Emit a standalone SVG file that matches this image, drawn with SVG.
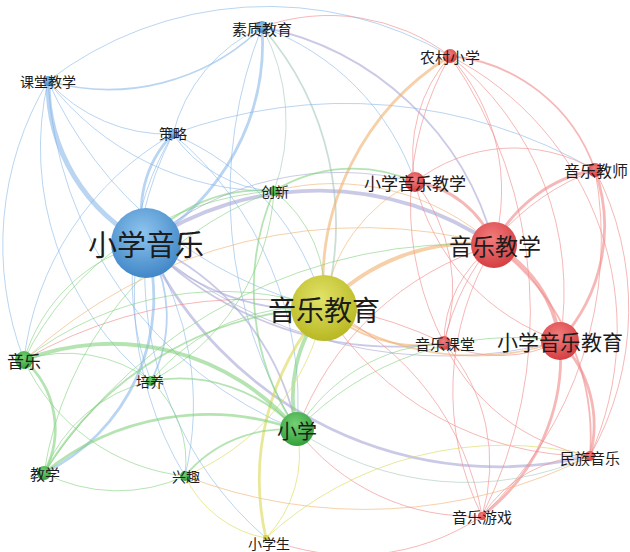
<svg xmlns="http://www.w3.org/2000/svg" width="630" height="552" viewBox="0 0 630 552">
<defs>
<radialGradient id="gb" cx="45%" cy="35%" r="70%"><stop offset="0" stop-color="#8ec4ee"/><stop offset="1" stop-color="#3b82c4"/></radialGradient>
<radialGradient id="gr" cx="45%" cy="35%" r="70%"><stop offset="0" stop-color="#f27c7c"/><stop offset="1" stop-color="#d23a3e"/></radialGradient>
<radialGradient id="gy" cx="45%" cy="35%" r="70%"><stop offset="0" stop-color="#e2e268"/><stop offset="1" stop-color="#b5b51e"/></radialGradient>
<radialGradient id="gg" cx="45%" cy="35%" r="70%"><stop offset="0" stop-color="#74d074"/><stop offset="1" stop-color="#2f9c36"/></radialGradient>
<style>
.e path{fill:none;stroke-linecap:round}
.b{stroke:#7fb3e6;stroke-opacity:.55}
.r{stroke:#f08a8a;stroke-opacity:.62}
.g{stroke:#80d07a;stroke-opacity:.58}
.y{stroke:#dada5a;stroke-opacity:.62}
.p{stroke:#a9a6d6;stroke-opacity:.6}
.o{stroke:#f0b070;stroke-opacity:.6}
.t{stroke:#9cc4b4;stroke-opacity:.55}
.w1{stroke-width:1}
.w2{stroke-width:1.8}
.w3{stroke-width:2.8}
.w4{stroke-width:3.8}
.w5{stroke-width:5}
text{font-family:"Noto Sans CJK SC","Noto Sans CJK TC",sans-serif;fill:#1c1c1c;text-anchor:middle;dominant-baseline:central}
.nb{fill:url(#gb)}.nr{fill:url(#gr)}.ny{fill:url(#gy)}.ng{fill:url(#gg)}
</style>
</defs>
<rect width="630" height="552" fill="#ffffff"/>
<g id="connectors" class="e">
<path class="b w5" d="M48 81 A180 180 0 0 0 146 243"/>
<path class="b w3" d="M262 27 A230 230 0 0 1 146 243"/>
<path class="b w3" d="M173 134 A110 110 0 0 0 146 243"/>
<path class="b w2" d="M48 81 A220 220 0 0 0 262 27"/>
<path class="b w1" d="M48 81 A160 160 0 0 0 173 134"/>
<path class="b w1" d="M262 27 A160 160 0 0 0 173 134"/>
<path class="t w1" d="M262 27 A200 200 0 0 1 274 191"/>
<path class="b w1" d="M262 27 A250 250 0 0 1 415 182"/>
<path class="p w2" d="M262 27 A300 300 0 0 1 494 245"/>
<path class="t w2" d="M262 27 A300 300 0 0 1 324 308"/>
<path class="b w1" d="M262 27 A450 450 0 0 0 297 430"/>
<path class="b w1" d="M173 134 A130 130 0 0 0 274 191"/>
<path class="b w1" d="M173 134 A500 500 0 0 1 595 170"/>
<path class="b w1" d="M173 134 A260 260 0 0 1 324 308"/>
<path class="b w1" d="M173 134 A350 350 0 0 1 297 430"/>
<path class="b w1" d="M173 134 A280 280 0 0 0 151 381"/>
<path class="b w1" d="M173 134 A300 300 0 0 0 24 360"/>
<path class="b w1" d="M48 81 A320 320 0 0 0 24 360"/>
<path class="b w1" d="M48 81 A280 280 0 0 0 274 191"/>
<path class="b w1" d="M48 81 A400 400 0 0 0 324 308"/>
<path class="b w1" d="M48 81 A360 360 0 0 1 450 56"/>
<path class="r w1" d="M262 27 A200 200 0 0 1 450 56"/>
<path class="b w1" d="M48 81 A400 400 0 0 0 297 430"/>
<path class="b w1" d="M48 81 A300 300 0 0 0 151 381"/>
<path class="b w1" d="M173 134 A350 350 0 0 0 185 476"/>
<path class="g w2" d="M146 243 A150 150 0 0 1 274 191"/>
<path class="p w1" d="M146 243 A300 300 0 0 1 415 182"/>
<path class="p w4" d="M146 243 A310 310 0 0 1 494 245"/>
<path class="p w2" d="M146 243 A220 220 0 0 0 324 308"/>
<path class="p w2" d="M146 243 A260 260 0 0 1 297 430"/>
<path class="p w3" d="M146 243 A390 390 0 0 0 590 456"/>
<path class="g w1" d="M146 243 A170 170 0 0 0 24 360"/>
<path class="b w2" d="M146 243 A140 140 0 0 1 151 381"/>
<path class="b w3" d="M44 473 A195 195 0 0 0 146 243"/>
<path class="b w1" d="M146 243 A300 300 0 0 1 185 476"/>
<path class="b w1" d="M146 243 A350 350 0 0 0 266 538"/>
<path class="p w2" d="M146 243 A350 350 0 0 0 444 343"/>
<path class="p w1" d="M146 243 A450 450 0 0 0 560 341"/>
<path class="o w3" d="M450 56 A268 268 0 0 0 324 308"/>
<path class="r w2" d="M450 56 A170 170 0 0 1 595 170"/>
<path class="r w1" d="M450 56 A307 307 0 0 1 590 456"/>
<path class="r w1" d="M450 56 A200 200 0 0 1 494 245"/>
<path class="r w1" d="M450 56 A150 150 0 0 0 415 182"/>
<path class="r w1" d="M450 56 A300 300 0 0 1 560 341"/>
<path class="r w1" d="M450 56 A300 300 0 0 0 444 343"/>
<path class="r w1" d="M450 56 A450 450 0 0 1 482 516"/>
<path class="r w3" d="M415 182 A100 100 0 0 1 494 245"/>
<path class="r w1" d="M415 182 A160 160 0 0 1 595 170"/>
<path class="r w1" d="M415 182 A220 220 0 0 0 560 341"/>
<path class="r w1" d="M415 182 A170 170 0 0 1 444 343"/>
<path class="o w1" d="M415 182 A160 160 0 0 0 324 308"/>
<path class="r w3" d="M595 170 A140 140 0 0 0 494 245"/>
<path class="r w3" d="M595 170 A170 170 0 0 1 560 341"/>
<path class="r w1" d="M595 170 A240 240 0 0 0 444 343"/>
<path class="r w1" d="M595 170 A300 300 0 0 1 590 456"/>
<path class="r w1" d="M595 170 A380 380 0 0 1 482 516"/>
<path class="r w4" d="M494 245 A130 130 0 0 1 560 341"/>
<path class="o w4" d="M494 245 A200 200 0 0 0 324 308"/>
<path class="r w1" d="M494 245 A120 120 0 0 0 444 343"/>
<path class="r w2" d="M494 245 A240 240 0 0 1 590 456"/>
<path class="r w1" d="M494 245 A280 280 0 0 0 482 516"/>
<path class="r w1" d="M494 245 A300 300 0 0 0 297 430"/>
<path class="r w3" d="M560 341 A120 120 0 0 1 590 456"/>
<path class="r w3" d="M560 341 A200 200 0 0 1 482 516"/>
<path class="r w1" d="M560 341 A130 130 0 0 1 444 343"/>
<path class="o w2" d="M560 341 A260 260 0 0 1 324 308"/>
<path class="r w1" d="M444 343 A180 180 0 0 1 482 516"/>
<path class="r w1" d="M444 343 A200 200 0 0 0 590 456"/>
<path class="o w2" d="M444 343 A140 140 0 0 1 324 308"/>
<path class="r w1" d="M590 456 A130 130 0 0 0 482 516"/>
<path class="r w1" d="M590 456 A310 310 0 0 1 324 308"/>
<path class="o w1" d="M590 456 A500 500 0 0 1 185 476"/>
<path class="t w1" d="M590 456 A300 300 0 0 1 297 430"/>
<path class="r w1" d="M482 516 A220 220 0 0 1 297 430"/>
<path class="r w1" d="M482 516 A280 280 0 0 0 324 308"/>
<path class="r w1" d="M482 516 A230 230 0 0 1 266 538"/>
<path class="g w4" d="M324 308 A140 140 0 0 0 297 430"/>
<path class="y w3" d="M324 308 A260 260 0 0 0 266 538"/>
<path class="g w1" d="M324 308 A320 320 0 0 0 24 360"/>
<path class="g w2" d="M324 308 A340 340 0 0 0 44 473"/>
<path class="y w1" d="M324 308 A230 230 0 0 1 185 476"/>
<path class="g w1" d="M324 308 A200 200 0 0 0 151 381"/>
<path class="g w4" d="M24 360 A243 243 0 0 1 297 430"/>
<path class="g w3" d="M24 360 A92 92 0 0 1 44 473"/>
<path class="g w1" d="M24 360 A140 140 0 0 1 151 381"/>
<path class="g w1" d="M24 360 A200 200 0 0 0 185 476"/>
<path class="g w1" d="M24 360 A300 300 0 0 1 274 191"/>
<path class="g w3" d="M44 473 A260 260 0 0 1 297 430"/>
<path class="g w1" d="M44 473 A150 150 0 0 1 151 381"/>
<path class="g w1" d="M44 473 A160 160 0 0 0 185 476"/>
<path class="g w1" d="M44 473 A500 500 0 0 1 494 245"/>
<path class="g w1" d="M44 473 A360 360 0 0 1 274 191"/>
<path class="g w2" d="M151 381 A160 160 0 0 1 297 430"/>
<path class="g w1" d="M151 381 A110 110 0 0 1 185 476"/>
<path class="g w1" d="M151 381 A230 230 0 0 0 274 191"/>
<path class="g w2" d="M185 476 A130 130 0 0 1 297 430"/>
<path class="y w1" d="M185 476 A110 110 0 0 0 266 538"/>
<path class="y w1" d="M297 430 A120 120 0 0 1 266 538"/>
<path class="g w1" d="M297 430 A180 180 0 0 1 444 343"/>
<path class="g w1" d="M297 430 A300 300 0 0 1 560 341"/>
<path class="g w2" d="M274 191 A250 250 0 0 0 297 430"/>
<path class="g w1" d="M274 191 A130 130 0 0 1 324 308"/>
<path class="o w1" d="M274 191 A240 240 0 0 1 494 245"/>
<path class="g w2" d="M274 191 A150 150 0 0 1 415 182"/>
<path class="y w1" d="M266 538 A350 350 0 0 1 590 456"/>
<path class="r w1" d="M444 343 A450 450 0 0 0 24 360"/>
<path class="o w1" d="M494 245 A500 500 0 0 0 24 360"/>
</g>
<g id="n-xxyy"><circle class="nb" cx="146" cy="243" r="35"/><text x="146" y="243" font-size="29">小学音乐</text></g>
<g id="n-yyjy"><circle class="ny" cx="324" cy="308" r="33"/><text x="324" y="309" font-size="28">音乐教育</text></g>
<g id="n-yyjx"><circle class="nr" cx="494" cy="245" r="23"/><text x="495" y="245" font-size="23">音乐教学</text></g>
<g id="n-xxyyjy"><circle class="nr" cx="560" cy="341" r="19"/><text x="560" y="341" font-size="21">小学音乐教育</text></g>
<g id="n-xx"><circle class="ng" cx="297" cy="429" r="17"/><text x="297" y="430" font-size="20">小学</text></g>
<g id="n-xxyyjx"><circle class="nr" cx="415" cy="182" r="10"/><text x="415" y="182" font-size="17">小学音乐教学</text></g>
<g id="n-ncxx"><circle class="nr" cx="450" cy="56" r="7"/><text x="450" y="56" font-size="15">农村小学</text></g>
<g id="n-yyjs"><circle class="nr" cx="595" cy="170" r="7"/><text x="596" y="170" font-size="16">音乐教师</text></g>
<g id="n-yykt"><circle class="nr" cx="444" cy="343" r="7"/><text x="445" y="343" font-size="15">音乐课堂</text></g>
<g id="n-mzyy"><circle class="nr" cx="590" cy="456" r="5"/><text x="590" y="457" font-size="15">民族音乐</text></g>
<g id="n-yyyx"><circle class="nr" cx="482" cy="516" r="4"/><text x="482" y="516" font-size="15">音乐游戏</text></g>
<g id="n-szjy"><circle class="nb" cx="262" cy="27" r="6"/><text x="262" y="28" font-size="15">素质教育</text></g>
<g id="n-ktjx"><circle class="nb" cx="48" cy="81" r="5"/><text x="48" y="81" font-size="14">课堂教学</text></g>
<g id="n-cl"><circle class="nb" cx="173" cy="134" r="5"/><text x="173" y="133" font-size="14">策略</text></g>
<g id="n-cx"><circle class="ng" cx="274" cy="191" r="5"/><text x="275" y="191" font-size="14">创新</text></g>
<g id="n-yy"><circle class="ng" cx="24" cy="360" r="9"/><text x="24" y="360" font-size="17">音乐</text></g>
<g id="n-py"><circle class="ng" cx="151" cy="381" r="5"/><text x="150" y="381" font-size="14">培养</text></g>
<g id="n-jx"><circle class="ng" cx="44" cy="473" r="7"/><text x="45" y="473" font-size="15">教学</text></g>
<g id="n-xq"><circle class="ng" cx="185" cy="476" r="5"/><text x="186" y="476" font-size="14">兴趣</text></g>
<g id="n-xxs"><circle class="ny" cx="266" cy="538" r="3"/><text x="269" y="543" font-size="14">小学生</text></g>
</svg>
